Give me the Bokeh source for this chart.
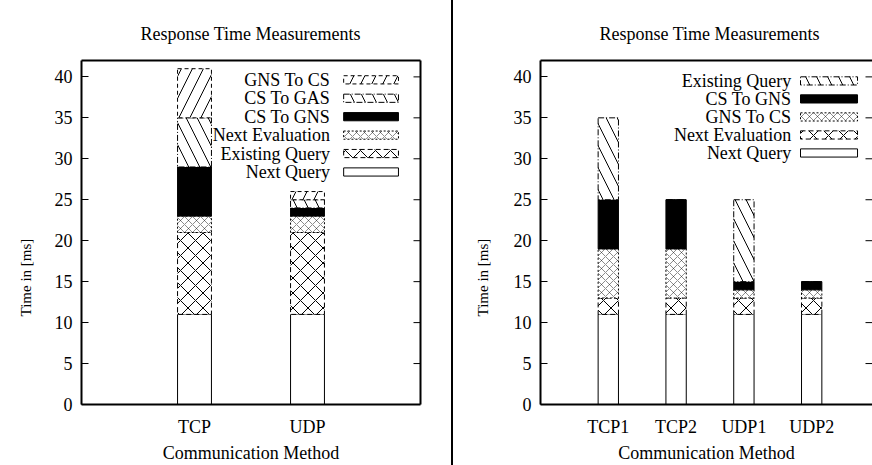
import math
from bokeh.plotting import figure
from bokeh.models import (ColumnDataSource, FixedTicker, Range1d, LinearAxis,
                          Label, BoxAnnotation, Div, Title)
from bokeh.layouts import row
from bokeh.transform import stack
from bokeh.embed import file_html
from bokeh.resources import INLINE

FONT = "Liberation Serif"

# ---------------- data ----------------
title_text = "Response Time Measurements"
x_label = "Communication Method"
y_label = "Time in [ms]"
y_ticks = [0, 5, 10, 15, 20, 25, 30, 35, 40]

left_categories = ["TCP", "UDP"]
left_series = ["Next Query", "Existing Query", "Next Evaluation",
               "CS To GNS", "CS To GAS", "GNS To CS"]
left_next_query = [11, 11]
left_existing_query = [10, 10]
left_next_evaluation = [2, 2]
left_cs_to_gns = [6, 1]
left_cs_to_gas = [6, 1]
left_gns_to_cs = [6, 1]
left_values = [left_next_query, left_existing_query, left_next_evaluation,
               left_cs_to_gns, left_cs_to_gas, left_gns_to_cs]

right_categories = ["TCP1", "TCP2", "UDP1", "UDP2"]
right_series = ["Next Query", "Next Evaluation", "GNS To CS",
                "CS To GNS", "Existing Query"]
right_next_query = [11, 11, 11, 11]
right_next_evaluation = [2, 2, 2, 2]
right_gns_to_cs = [6, 6, 1, 1]
right_cs_to_gns = [6, 6, 1, 1]
right_existing_query = [10, 0, 10, 0]
right_values = [right_next_query, right_next_evaluation, right_gns_to_cs,
                right_cs_to_gns, right_existing_query]

# gnuplot-like fill styles per stack position
STYLES = [
    dict(fill_color="white", hatch_pattern=None, line_dash="solid"),
    dict(fill_color="white", hatch_pattern="x", hatch_scale=15, hatch_weight=1.0,
         hatch_alpha=1.0, line_dash="5 3"),
    dict(fill_color="white", hatch_pattern="x", hatch_scale=8, hatch_weight=0.6,
         hatch_alpha=0.75, line_dash="2 2"),
    dict(fill_color="black", hatch_pattern=None, line_dash="solid"),
    dict(fill_color="white", hatch_pattern="\\", hatch_scale=22, hatch_weight=1.0,
         hatch_alpha=1.0, line_dash="6 2 1 2"),
    dict(fill_color="white", hatch_pattern="/", hatch_scale=22, hatch_weight=1.0,
         hatch_alpha=1.0, line_dash="4 3"),
]


def hatch_kwargs(s):
    if s["hatch_pattern"] is None:
        return {}
    return dict(hatch_pattern=s["hatch_pattern"], hatch_scale=s["hatch_scale"],
                hatch_weight=s["hatch_weight"], hatch_alpha=s["hatch_alpha"],
                hatch_color="black")


FIG_H = 465


def make_fig(categories, series, values, x_end, width, border_left, border_right,
             title_offset, ylabel_standoff, legend_text_x, legend_box, legend_top,
             legend_step, right_line):
    p = figure(width=width, height=FIG_H, output_backend="svg", toolbar_location=None,
               x_range=Range1d(-1, x_end), y_range=Range1d(0, 42),
               min_border_left=border_left, min_border_right=border_right,
               min_border_top=60, min_border_bottom=60,
               background_fill_color="white", border_fill_color="white",
               outline_line_color=None)
    p.title.text = title_text
    p.title.text_font = FONT
    p.title.text_font_size = "18px"
    p.title.text_font_style = "normal"
    p.title.text_color = "black"
    p.title.align = "left"
    p.title.vertical_align = "top"
    p.title.standoff = 30
    p.title.offset = title_offset
    p.xgrid.visible = False
    p.ygrid.visible = False

    xs = list(range(len(categories)))
    data = {"x": xs}
    for name, vals in zip(series, values):
        data[name] = vals
    src = ColumnDataSource(data)
    for i, name in enumerate(series):
        s = STYLES[i]
        p.vbar(x="x", width=0.3, bottom=stack(*series[:i]), top=stack(*series[:i + 1]),
               source=src, fill_color=s["fill_color"], line_color="black",
               line_width=1, line_dash=s["line_dash"], **hatch_kwargs(s))

    # mirrored y ticks on the right edge, pointing inward
    p.ray(x=[x_end] * len(y_ticks), y=y_ticks, length=7, length_units="screen",
          angle=math.pi, line_color="black", line_width=1)

    # bottom axis
    xa = p.xaxis[0]
    xa.ticker = FixedTicker(ticks=xs)
    xa.major_label_overrides = {x: c for x, c in zip(xs, categories)}
    xa.major_tick_in = 0
    xa.major_tick_out = 0
    xa.minor_tick_in = 0
    xa.minor_tick_out = 0
    xa.axis_line_width = 2
    xa.axis_line_color = "black"
    xa.major_label_standoff = 12
    xa.major_label_text_font = FONT
    xa.major_label_text_font_size = "18px"
    xa.major_label_text_color = "black"
    xa.axis_label = x_label
    xa.axis_label_text_font = FONT
    xa.axis_label_text_font_size = "18px"
    xa.axis_label_text_font_style = "normal"
    xa.axis_label_text_color = "black"
    xa.axis_label_standoff = 3

    # left axis
    ya = p.yaxis[0]
    ya.ticker = FixedTicker(ticks=y_ticks)
    ya.major_tick_in = 7
    ya.major_tick_out = 0
    ya.minor_tick_in = 0
    ya.minor_tick_out = 0
    ya.axis_line_width = 2
    ya.axis_line_color = "black"
    ya.major_tick_line_color = "black"
    ya.major_label_standoff = 9
    ya.major_label_text_font = FONT
    ya.major_label_text_font_size = "18px"
    ya.major_label_text_color = "black"

    # y axis title, placed low like the original
    p.add_layout(Title(text=y_label, align="left", vertical_align="top", offset=88,
                       standoff=ylabel_standoff, text_font=FONT, text_color="black",
                       text_font_size="15px", text_font_style="normal"), "left")

    # top frame line
    top = LinearAxis(ticker=FixedTicker(ticks=[]), major_tick_in=0, major_tick_out=0,
                     minor_tick_in=0, minor_tick_out=0, axis_line_width=2,
                     axis_line_color="black")
    p.add_layout(top, "above")
    if right_line:
        rt = LinearAxis(ticker=FixedTicker(ticks=[]), major_tick_in=0, major_tick_out=0,
                        minor_tick_in=0, minor_tick_out=0, axis_line_width=2,
                        axis_line_color="black")
        p.add_layout(rt, "right")

    # legend: label on the left, sample on the right (gnuplot style)
    for j, i in enumerate(reversed(range(len(series)))):
        yc = legend_top - j * legend_step
        p.add_layout(Label(x=legend_text_x, y=yc, text=series[i], text_align="right",
                           text_baseline="middle", text_font=FONT,
                           text_font_size="18px", text_color="black"))
        s = STYLES[i]
        p.add_layout(BoxAnnotation(left=legend_box[0], right=legend_box[1],
                                   bottom=yc - 0.5, top=yc + 0.5,
                                   fill_color=s["fill_color"], fill_alpha=1.0,
                                   line_color="black", line_width=1,
                                   line_dash=s["line_dash"], line_alpha=1.0,
                                   **hatch_kwargs(s)))
    return p


p_left = make_fig(left_categories, left_series, left_values, x_end=2, width=451,
                  border_left=81, border_right=31, title_offset=59, ylabel_standoff=32,
                  legend_text_x=1.20, legend_box=(1.32, 1.805), legend_top=39.64,
                  legend_step=2.25, right_line=True)

p_right = make_fig(right_categories, right_series, right_values, x_end=3.897, width=419,
                   border_left=87, border_right=0, title_offset=59, ylabel_standoff=36,
                   legend_text_x=2.70, legend_box=(2.835, 3.676), legend_top=39.51,
                   legend_step=2.2, right_line=False)

divider = Div(text="", width=2, height=FIG_H, margin=0,
              styles={"background-color": "black"})

layout = row(p_left, divider, p_right)
open("out.html", "w").write(file_html(layout, INLINE))
